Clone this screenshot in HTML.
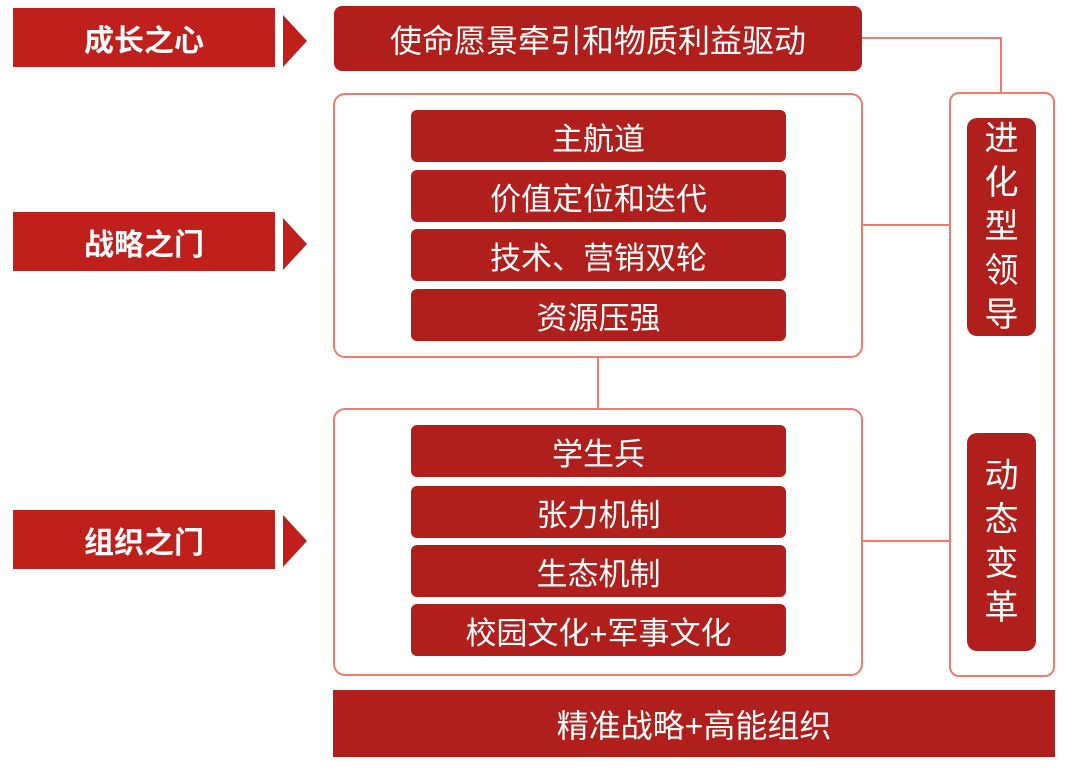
<!DOCTYPE html>
<html><head><meta charset="utf-8"><style>
body{margin:0;width:1078px;height:770px;background:#fff;position:relative;overflow:hidden;font-family:"Liberation Sans","Noto Sans CJK SC",sans-serif}
.a{position:absolute;box-sizing:border-box}
.r{background:#b01f1b;color:#fff;display:flex;align-items:center;justify-content:center}
.lab{left:13px;width:262px;height:59px;font-size:30px;font-weight:bold;background:#c0201c}
.tri{width:0;height:0;border-top:26px solid transparent;border-bottom:26px solid transparent;border-left:24px solid #c0201c;left:283px}
.box{border:2px solid #f07a6c;border-radius:12px;background:#fff}
.it{left:411px;width:375px;height:52px;border-radius:6px;font-size:31px}
.ln{background:#f07a6c}
.v{left:967px;width:69px;height:218px;border-radius:10px;font-size:34px;line-height:44px;text-align:center}
</style></head><body>
<div class="a r lab" style="top:8px">成长之心</div>
<div class="a tri" style="top:15px"></div>
<div class="a r lab" style="top:212px">战略之门</div>
<div class="a tri" style="top:218px"></div>
<div class="a r lab" style="top:510px">组织之门</div>
<div class="a tri" style="top:515px"></div>

<div class="a ln" style="left:862px;top:37px;width:140px;height:2px"></div>
<div class="a ln" style="left:1000px;top:37px;width:2px;height:56px"></div>
<div class="a ln" style="left:862px;top:224px;width:88px;height:2px"></div>
<div class="a ln" style="left:862px;top:540px;width:88px;height:2px"></div>
<div class="a ln" style="left:597px;top:357px;width:2px;height:52px"></div>

<div class="a r" style="left:334px;top:6px;width:528px;height:65px;border-radius:8px;font-size:32px">使命愿景牵引和物质利益驱动</div>

<div class="a box" style="left:333px;top:93px;width:530px;height:265px"></div>
<div class="a r it" style="top:110px">主航道</div>
<div class="a r it" style="top:170px">价值定位和迭代</div>
<div class="a r it" style="top:229px">技术、营销双轮</div>
<div class="a r it" style="top:289px">资源压强</div>

<div class="a box" style="left:333px;top:408px;width:530px;height:268px"></div>
<div class="a r it" style="top:425px">学生兵</div>
<div class="a r it" style="top:486px">张力机制</div>
<div class="a r it" style="top:545px">生态机制</div>
<div class="a r it" style="top:604px">校园文化+军事文化</div>

<div class="a box" style="left:949px;top:92px;width:106px;height:585px;border-radius:10px"></div>
<div class="a r v" style="top:118px"><div>进<br>化<br>型<br>领<br>导</div></div>
<div class="a r v" style="top:433px"><div>动<br>态<br>变<br>革</div></div>

<div class="a r" style="left:333px;top:690px;width:722px;height:67px;font-size:32px">精准战略+高能组织</div>
</body></html>
